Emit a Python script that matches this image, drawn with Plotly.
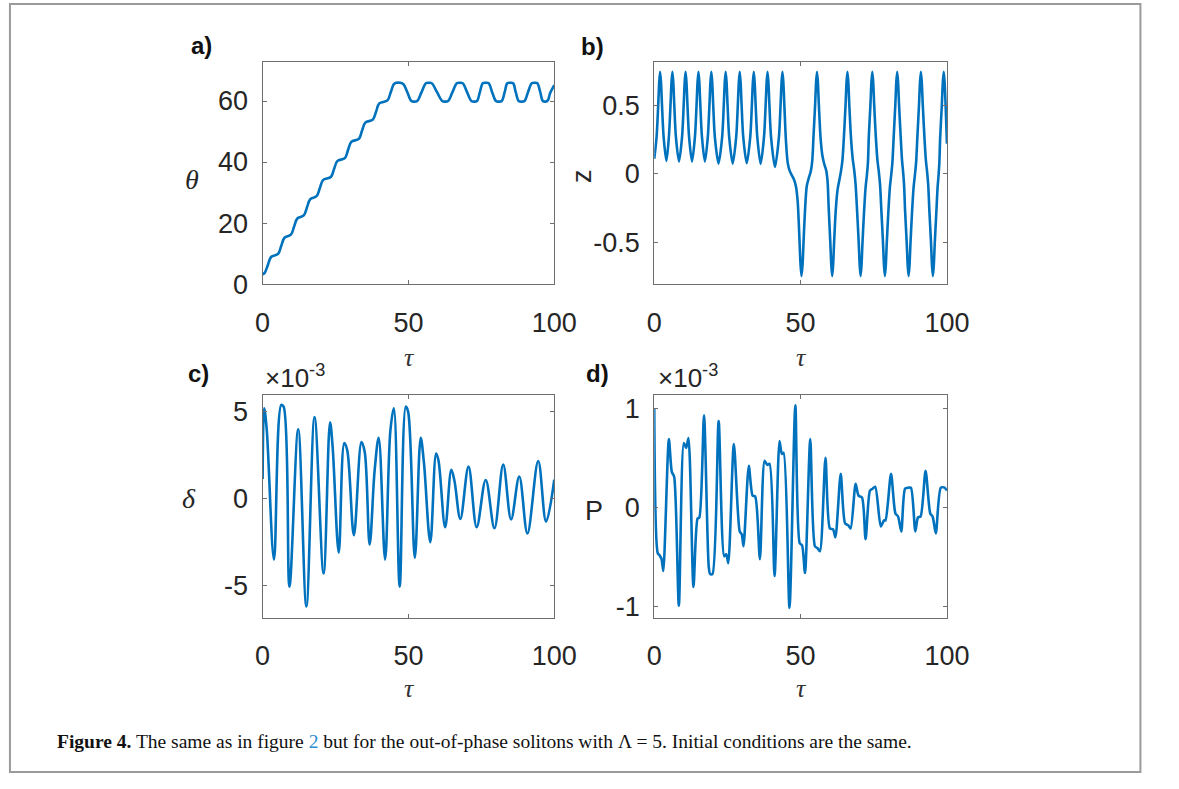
import plotly.graph_objects as go

W, H = 1179, 789

# ---------------- data ----------------
tau_a = [0, 0.7, 1.8, 2.9, 5.3, 6.4, 7.5, 9.7, 10.8, 11.9, 14.1, 15.2, 16.3, 18.5, 19.6, 20.7,
         23.4, 24.5, 25.6, 28.2, 29.3, 30.4, 33.0, 34.1, 35.2, 37.8, 38.9, 40.0, 42.8, 43.9, 45.0,
         45.8, 47.2, 48.3, 49.6, 51.0, 52.0, 53.0, 54.5, 56.0, 57.0, 58.0, 59.8, 61.6, 62.6, 63.6,
         65.1, 66.6, 67.6, 68.6, 70.1, 71.6, 72.6, 73.5, 74.5, 75.5, 76.5, 77.5, 78.7, 80.0, 81.0,
         82.0, 83.0, 83.9, 84.9, 85.9, 86.8, 87.8, 88.8, 89.8, 91.0, 92.3, 93.3, 94.2, 95.2, 96.1,
         97.0, 97.8, 98.6, 100]
theta = [3.2, 3.7, 6.3, 8.9, 9.9, 12.56, 15.2, 16.2, 18.85, 21.5, 22.5, 25.13, 27.8, 28.8, 31.4, 34.1,
         35.1, 37.7, 40.3, 41.3, 44.0, 46.6, 47.6, 50.3, 52.9, 53.9, 56.5, 59.2, 60.2, 62.8, 65.5,
         65.95, 65.95, 65.5, 62.9, 60.0, 59.8, 60.0, 62.9, 65.8, 65.95, 65.8, 62.9, 60.0, 59.8, 60.0,
         62.9, 65.8, 65.95, 65.8, 62.9, 60.0, 59.8, 60.0, 62.9, 65.8, 65.95, 65.8, 62.9, 60.0, 59.8,
         60.0, 62.9, 65.8, 65.95, 65.8, 62.9, 60.0, 59.8, 60.0, 62.9, 65.8, 65.95, 65.8, 62.9, 60.0,
         59.8, 60.2, 62.6, 65.2]

tau_b = [0, 0.8, 1.35, 1.7, 2.0, 2.3, 2.65, 3.2, 4.15,
         5.0, 5.55, 5.9, 6.2, 6.5, 6.85, 7.4, 8.45,
         9.5, 10.05, 10.4, 10.7, 11.0, 11.35, 11.9, 12.9,
         13.9, 14.45, 14.8, 15.1, 15.4, 15.75, 16.3, 17.3,
         18.3, 18.85, 19.2, 19.5, 19.8, 20.15, 20.7, 21.95,
         23.2, 23.75, 24.1, 24.4, 24.7, 25.05, 25.6, 26.8,
         28.0, 28.55, 28.9, 29.2, 29.5, 29.85, 30.4, 31.6,
         32.8, 33.35, 33.7, 34.0, 34.3, 34.65, 35.2, 36.35,
         37.5, 38.05, 38.4, 38.7, 39.0, 39.35, 39.9, 41.25,
         42.6, 43.15, 43.5, 43.8, 44.1, 44.45, 45.0,
         45.6, 46.3, 47.0, 47.7, 48.4, 49.0, 49.5, 49.95, 50.3,
         50.65, 51.0, 51.5, 52.1, 52.8, 53.5, 54.0, 54.4, 54.95, 55.3, 55.6,
         55.9, 56.25, 56.8, 57.4, 58.1, 58.7, 59.2, 59.6, 60.15, 60.5, 60.8,
         61.1, 61.45, 62.0, 62.6, 63.2, 63.8, 64.3, 64.8, 65.35, 65.7, 66.0,
         66.3, 66.65, 67.2, 67.8, 68.3, 68.8, 69.3, 69.85, 70.2, 70.5,
         70.8, 71.15, 71.7, 72.2, 72.6, 73.0, 73.3, 73.85, 74.2, 74.5,
         74.8, 75.15, 75.7, 76.25, 76.7, 77.15, 77.6, 78.15, 78.5, 78.8,
         79.1, 79.45, 80.0, 80.5, 80.9, 81.35, 81.8, 82.35, 82.7, 83.0,
         83.3, 83.65, 84.2, 84.65, 85.0, 85.35, 85.7, 86.25, 86.6, 86.9,
         87.2, 87.55, 88.1, 88.6, 89.0, 89.45, 89.9, 90.45, 90.8, 91.1,
         91.4, 91.75, 92.3, 92.8, 93.2, 93.6, 94.0, 94.55, 94.9, 95.2,
         95.5, 95.85, 96.4, 96.8, 97.1, 97.4, 97.7, 98.25, 98.6, 98.9,
         99.2, 99.55, 100]
z = [0.11, 0.27, 0.5, 0.67, 0.745, 0.67, 0.5, 0.27, 0.095,
     0.27, 0.5, 0.67, 0.745, 0.67, 0.5, 0.27, 0.09,
     0.27, 0.5, 0.67, 0.745, 0.67, 0.5, 0.27, 0.09,
     0.27, 0.5, 0.67, 0.745, 0.67, 0.5, 0.27, 0.09,
     0.27, 0.5, 0.67, 0.745, 0.67, 0.5, 0.27, 0.075,
     0.27, 0.5, 0.67, 0.745, 0.67, 0.5, 0.27, 0.075,
     0.27, 0.5, 0.67, 0.745, 0.67, 0.5, 0.27, 0.078,
     0.27, 0.5, 0.67, 0.745, 0.67, 0.5, 0.27, 0.072,
     0.27, 0.5, 0.67, 0.745, 0.67, 0.5, 0.27, 0.05,
     0.27, 0.5, 0.67, 0.745, 0.67, 0.5, 0.24,
     0.08, 0.02, -0.01, -0.04, -0.09, -0.2, -0.42, -0.65, -0.745,
     -0.67, -0.5, -0.27, -0.09, -0.03, 0.02, 0.1, 0.27, 0.5, 0.67, 0.745,
     0.67, 0.5, 0.27, 0.14, 0.07, 0.03, -0.05, -0.25, -0.5, -0.67, -0.745,
     -0.67, -0.5, -0.27, -0.12, -0.05, 0.02, 0.1, 0.27, 0.5, 0.67, 0.745,
     0.67, 0.5, 0.27, 0.11, 0.03, -0.08, -0.27, -0.5, -0.67, -0.745,
     -0.67, -0.5, -0.27, -0.1, -0.02, 0.08, 0.27, 0.5, 0.67, 0.745,
     0.67, 0.5, 0.27, 0.1, 0.02, -0.08, -0.27, -0.5, -0.67, -0.745,
     -0.67, -0.5, -0.27, -0.1, -0.02, 0.08, 0.27, 0.5, 0.67, 0.745,
     0.67, 0.5, 0.27, 0.1, 0.02, -0.08, -0.27, -0.5, -0.67, -0.745,
     -0.67, -0.5, -0.27, -0.1, -0.02, 0.08, 0.27, 0.5, 0.67, 0.745,
     0.67, 0.5, 0.27, 0.1, 0.02, -0.08, -0.27, -0.5, -0.67, -0.745,
     -0.67, -0.5, -0.27, -0.1, -0.02, 0.08, 0.27, 0.5, 0.67, 0.745,
     0.67, 0.5, 0.22]

tau_c = [0, 0.55, 1.4, 3.9, 6.4, 7.2, 9.2, 12.2, 15.0, 17.8, 20.9, 23.1, 24.0, 26.1, 28.0, 29.0,
         31.3, 33.9, 35.0, 36.7, 38.4, 39.8, 42.0, 43.8, 45.0, 47.0, 49.1, 49.9, 52.2, 54.2, 55.3,
         57.5, 59.5, 60.3, 62.6, 64.7, 65.8, 67.8, 70.6, 73.4, 76.5, 79.5, 82.5, 85.2, 88.0, 90.8,
         94.5, 97.2, 100]
delta_e3 = [1.13, 5.2, 4.0, -3.5, 5.4, 5.3, -5.06, 4.0, -6.2, 4.7, -4.3, 4.4, 3.0, -3.1, 3.2, 2.8,
            -2.1, 3.26, 2.7, -2.64, 1.6, 3.5, -3.5, 3.9, 5.2, -5.06, 5.3, 5.0, -3.4, 3.5, 2.1,
            -2.5, 2.6, 2.2, -1.64, 1.66, 1.0, -1.17, 1.85, -1.64, 1.08, -1.7, 1.96, -1.19, 1.28, -2.0,
            2.17, -1.32, 1.1]

tau_d = [0, 1.2, 1.8, 2.5, 3.1, 5.0, 6.0, 6.8, 8.4, 10.1, 10.9, 11.7, 13.4, 14.8, 15.4, 17.0,
         18.6, 19.1, 19.9, 22.0, 23.9, 24.6, 25.3, 27.2, 29.2, 29.9, 30.5, 32.3, 33.6, 34.5, 36.1,
         37.7, 38.6, 39.4, 41.1, 42.8, 43.6, 44.2, 46.2, 48.2, 49.7, 50.5, 51.5, 53.3, 54.9, 55.8,
         56.6, 58.5, 60.0, 61.1, 61.9, 63.7, 65.2, 66.3, 67.1, 68.8, 69.8, 71.0, 72.2, 73.7, 74.6,
         75.5, 77.4, 78.5, 79.0, 80.9, 82.4, 83.3, 84.4, 85.7, 86.8, 87.7, 89.2, 90.1, 91.0, 92.7,
         94.3, 95.1, 96.2, 97.9, 99.2, 100]
P_e3 = [1.0, -0.46, -0.48, -0.52, -0.64, 0.69, 0.36, 0.31, -0.99, 0.65, 0.6, 0.7, -0.8, -0.11, -0.1, 0.93,
        -0.59, -0.67, -0.67, 0.87, -0.49, -0.47, -0.56, 0.64, -0.24, -0.27, -0.39, 0.42, 0.12, 0.11, -0.52,
        0.47, 0.43, 0.44, -0.69, 0.67, 0.54, 0.55, -1.01, 1.03, -0.36, -0.38, -0.66, 0.69, -0.39, -0.41,
        -0.44, 0.5, -0.21, -0.22, -0.3, 0.34, -0.16, -0.18, -0.21, 0.24, 0.12, 0.1, -0.32, 0.17, 0.19,
        0.21, -0.19, -0.13, -0.13, 0.34, -0.06, -0.09, -0.24, 0.19, 0.2, 0.2, -0.24, -0.1, -0.09, 0.37,
        -0.06, -0.09, -0.26, 0.2, 0.2, 0.17]

x_ticks = [0, 50, 100]
x_ticktext = ["0", "50", "100"]
a_yticks = [0, 20, 40, 60]
a_yticktext = ["0", "20", "40", "60"]
b_yticks = [-0.5, 0, 0.5]
b_yticktext = ["-0.5", "0", "0.5"]
c_yticks = [-5, 0, 5]
c_yticktext = ["-5", "0", "5"]
d_yticks = [-1, 0, 1]
d_yticktext = ["-1", "0", "1"]

# ---------------- layout helpers ----------------
def px(x):
    return x / W

def py(y):
    return 1 - y / H

LINE = "#0072BD"
AX = "#6e6e6e"
TXT = "#262626"
SANS = "Liberation Sans, Arial, sans-serif"
SERIF = "Liberation Serif, Times New Roman, serif"

fig = go.Figure()
fig.add_trace(go.Scatter(x=tau_a, y=theta, mode="lines", line=dict(color=LINE, width=2.6, shape="spline", smoothing=1.0),
                         xaxis="x", yaxis="y", showlegend=False))
fig.add_trace(go.Scatter(x=tau_b, y=z, mode="lines", line=dict(color=LINE, width=2.6, shape="spline", smoothing=0.8),
                         xaxis="x2", yaxis="y2", showlegend=False))
fig.add_trace(go.Scatter(x=tau_c, y=delta_e3, mode="lines", line=dict(color=LINE, width=2.6, shape="spline", smoothing=1.0),
                         xaxis="x3", yaxis="y3", showlegend=False))
fig.add_trace(go.Scatter(x=tau_d, y=P_e3, mode="lines", line=dict(color=LINE, width=2.6, shape="spline", smoothing=0.7),
                         xaxis="x4", yaxis="y4", showlegend=False))

def xax(dom, anchor):
    return dict(domain=dom, anchor=anchor, range=[0, 100], tickvals=x_ticks, ticktext=x_ticktext,
                showline=True, linecolor=AX, linewidth=1.2, mirror="ticks", ticks="inside", ticklen=4,
                tickcolor=AX, showgrid=False, zeroline=False, ticklabelstandoff=14,
                tickfont=dict(family=SANS, size=27, color=TXT))

def yax(dom, anchor, rng, tv, tt):
    return dict(domain=dom, anchor=anchor, range=rng, tickvals=tv, ticktext=tt,
                showline=True, linecolor=AX, linewidth=1.2, mirror="ticks", ticks="inside", ticklen=4,
                tickcolor=AX, showgrid=False, zeroline=False, ticklabelstandoff=8,
                tickfont=dict(family=SANS, size=27, color=TXT))

xl_left = [px(261.5), px(561)]
xl_right = [px(663.7), px(964.3)]
yd_top = [py(289), py(62.5)]
yd_bot = [py(629.5), py(402.5)]

fig.update_layout(
    width=W, height=H, margin=dict(l=0, r=0, t=0, b=0),
    paper_bgcolor="white", plot_bgcolor="white",
    xaxis=xax(xl_left, "y"), yaxis=yax(yd_top, "x", [0, 72.7], a_yticks, a_yticktext),
    xaxis2=xax(xl_right, "y2"), yaxis2=yax(yd_top, "x2", [-0.805, 0.815], b_yticks, b_yticktext),
    xaxis3=xax(xl_left, "y3"), yaxis3=yax(yd_bot, "x3", [-6.85, 5.95], c_yticks, c_yticktext),
    xaxis4=xax(xl_right, "y4"), yaxis4=yax(yd_bot, "x4", [-1.11, 1.13], d_yticks, d_yticktext),
)

ann = []
def add_text(x, y, text, size, family=SANS, xanchor="center", yanchor="middle", angle=0, color=TXT):
    ann.append(dict(x=px(x), y=py(y), xref="paper", yref="paper", text=text, showarrow=False,
                    xanchor=xanchor, yanchor=yanchor, textangle=angle,
                    font=dict(family=family, size=size, color=color)))

# panel labels
add_text(199, 45, "<b>a)</b>", 24, color="#111")
add_text(600, 46, "<b>b)</b>", 24, color="#111")
add_text(196, 380, "<b>c)</b>", 24, color="#111")
add_text(605, 380, "<b>d)</b>", 24, color="#111")
# y labels
add_text(189, 182, "<i>θ</i>", 28, family=SERIF)
add_text(590, 178, "z", 27, angle=-90)
add_text(186, 508, "<i>δ</i>", 28, family=SERIF)
add_text(602, 521, "P", 27)
# x labels
for (xx, yy) in [(412, 364), (815, 364), (412, 702), (815, 702)]:
    add_text(xx, yy, "<i>τ</i>", 26, family=SERIF, color="#333")
# exponent labels
add_text(262, 383, "×10<sup>-3</sup>", 26, xanchor="left")
add_text(666, 383, "×10<sup>-3</sup>", 26, xanchor="left")
# caption
add_text(48, 756,
         "<b>Figure 4.</b> The same as in figure <span style='color:#2a8fd0'>2</span> but for the out-of-phase "
         "solitons with Λ = 5. Initial conditions are the same.",
         19.5, family=SERIF, xanchor="left", color="#111")
fig.update_layout(annotations=ann)

# outer frame
fig.add_shape(type="rect", xref="paper", yref="paper", x0=px(2), x1=px(1163), y0=py(787), y1=py(3),
              line=dict(color="#9a9a9a", width=2), fillcolor="rgba(0,0,0,0)")

fig.write_html("out.html", post_script="document.body.style.margin='0';document.body.style.overflow='hidden';")
